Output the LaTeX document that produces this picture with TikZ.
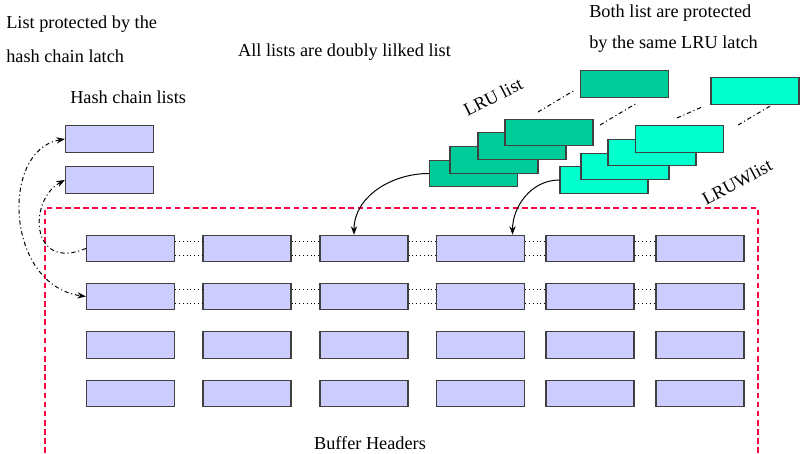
\documentclass[tikz,border=0pt]{standalone}
\usepackage{fontspec}
\setmainfont{Liberation Serif}
\usetikzlibrary{arrows.meta}
\definecolor{bufblue}{RGB}{204,204,255}
\definecolor{lrugreen}{RGB}{0,204,153}
\definecolor{lruwcyan}{RGB}{0,255,204}
\definecolor{boxedge}{RGB}{64,64,64}
\definecolor{hdrred}{RGB}{255,0,64}
\tikzset{
  buf/.style={draw=boxedge,fill=bufblue,line width=0.9pt,minimum width=2.2cm,minimum height=0.66cm,inner sep=0pt},
  lru/.style={buf,fill=lrugreen},
  lruw/.style={buf,fill=lruwcyan},
  link/.style={dotted,line width=0.7pt},
  chain/.style={dash pattern=on 3pt off 2pt on 0.8pt off 2pt,line width=0.7pt},
  lbl/.style={font=\fontsize{13}{15}\selectfont,inner sep=0pt}
}

\begin{document}
\begin{tikzpicture}[x=0.025cm,y=-0.025cm,>={Stealth[length=6pt,width=4.5pt]}]
  \useasboundingbox (0,0) rectangle (800,453);

  % buffer headers
  \draw[hdrred,line width=0.9pt,dash pattern=on 4pt off 2.5pt] (45,453) -- (45,208) -- (758,208) -- (758,453);
  \foreach \r/\y in {1/248.5,2/296.5,3/345,4/393.5}
    \foreach \c/\x in {1/130.5,2/247,3/364,4/480.5,5/590,6/700}
      \node[buf] (b\r\c) at (\x,\y) {};

  % doubly linked rows
  \foreach \r in {1,2}
    \foreach \c/\n in {1/2,2/3,3/4,4/5,5/6} {
      \draw[link] ([yshift=0.175cm]b\r\c.east) -- ([yshift=0.175cm]b\r\n.west);
      \draw[link] ([yshift=-0.175cm]b\r\c.east) -- ([yshift=-0.175cm]b\r\n.west);
    }

  % hash chains
  \node[buf] (h1) at (109.5,139) {};
  \node[buf] (h2) at (109.5,180) {};
  \draw[chain,->] (b11.west) .. controls (30,272) and (28,200) .. (h2.west);
  \draw[chain,<->] (h1.west) .. controls (0,150) and (5,285) .. (b21.west);

  % LRU list
  \node[lru] (l1) at (473.5,173.5) {};
  \node[lru] (l2) at (494,160) {};
  \node[lru] (l3) at (522,146) {};
  \node[lru] (l4) at (549,132.5) {};
  \node[lru] (l5) at (624.5,84) {};
  \draw[chain] (538,112) -- (575,90);
  \draw[chain] (600,125) -- (637,103);
  \draw[->,line width=0.7pt] (l1.west) to[out=180,in=90] ([xshift=-0.25cm]b13.north);

  % LRUW list
  \node[lruw] (w1) at (604,180) {};
  \node[lruw] (w2) at (625,166.5) {};
  \node[lruw] (w3) at (652,152.5) {};
  \node[lruw] (w4) at (679.5,139) {};
  \node[lruw] (w5) at (755,91) {};
  \draw[chain] (677,118) -- (702,107);
  \draw[chain] (738,125) -- (772,105);
  \draw[->,line width=0.7pt] (w1.west) to[out=180,in=90] ([xshift=0.8cm]b14.north);

  % labels
  \node[lbl,anchor=north west,align=left,font=\fontsize{13}{24.2}\selectfont] (hashnote) at (6,16) {List protected by the\\hash chain latch};
  \node[lbl] (dbl) at (344.5,52) {All lists are doubly lilked list};
  \node[lbl,anchor=west] (hashlbl) at (70,97) {Hash chain lists};
  \node[lbl,anchor=north west,align=left,font=\fontsize{13}{22}\selectfont] (lrunote) at (589,5) {Both list are protected\\by the same LRU latch};
  \node[lbl,rotate=27] (lrulbl) at (493,97) {LRU list};
  \node[lbl,rotate=28] (lruwlbl) at (737,182) {LRUWlist};
  \node[lbl] (hdrlbl) at (370,443) {Buffer Headers};
\end{tikzpicture}
\end{document}
